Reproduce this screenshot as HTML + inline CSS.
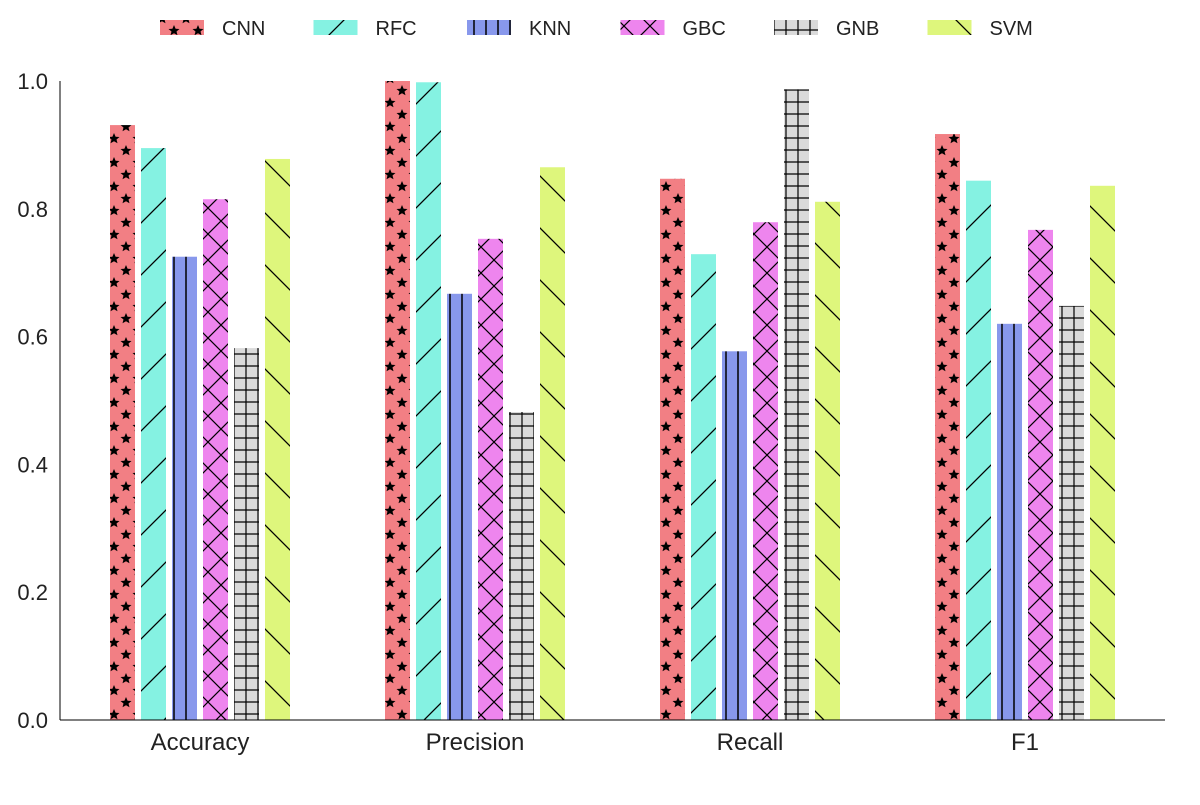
<!DOCTYPE html>
<html><head><meta charset="utf-8"><style>
body{margin:0;background:#fff;}
svg{font-family:"Liberation Sans",sans-serif;}
</style></head><body>
<svg id="chart" width="1200" height="800">
<defs>
<pattern id="p0" patternUnits="userSpaceOnUse" width="24" height="24"><rect width="24" height="24" fill="#f27f84"/>
<polygon points="6,1 7.6,4.8 11.5,5 8.5,7.5 9.5,11.3 6,9.2 2.5,11.3 3.5,7.5 0.5,5 4.4,4.8" fill="#000"/>
<polygon points="18,13 19.6,16.8 23.5,17 20.5,19.5 21.5,23.3 18,21.2 14.5,23.3 15.5,19.5 12.5,17 16.4,16.8" fill="#000"/></pattern>
<pattern id="p1" patternUnits="userSpaceOnUse" width="52" height="52"><rect width="52" height="52" fill="#85f2e2"/><path d="M0,52 L52,0 M-10,10 L10,-10 M42,62 L62,42" stroke="#000" stroke-width="1.3"/></pattern>
<pattern id="p2" patternUnits="userSpaceOnUse" width="12" height="12"><rect width="12" height="12" fill="#8898ec"/><path d="M6,0 L6,12" stroke="#000" stroke-width="1.5"/></pattern>
<pattern id="p3" patternUnits="userSpaceOnUse" width="26" height="26"><rect width="26" height="26" fill="#ee85ee"/><path d="M0,0 L26,26 M26,0 L0,26" stroke="#000" stroke-width="1.2"/></pattern>
<pattern id="p4" patternUnits="userSpaceOnUse" width="12" height="12"><rect width="12" height="12" fill="#dadada"/><path d="M6,0 L6,12 M0,6 L12,6" stroke="#000" stroke-width="1.2"/></pattern>
<pattern id="p5" patternUnits="userSpaceOnUse" width="52" height="52"><rect width="52" height="52" fill="#def67c"/><path d="M0,0 L52,52 M-10,42 L10,62 M42,-10 L62,10" stroke="#000" stroke-width="1.3"/></pattern>
</defs>
<g id="bars"></g>
<g id="axes"></g>
<g id="legend"></g>
</svg>
<script>
const categories=["Accuracy","Precision","Recall","F1"];
const seriesNames=["CNN","RFC","KNN","GBC","GNB","SVM"];
const cnn=[0.931,1.0,0.847,0.917];
const rfc=[0.895,0.998,0.729,0.844];
const knn=[0.725,0.667,0.577,0.620];
const gbc=[0.815,0.753,0.779,0.767];
const gnb=[0.582,0.482,0.987,0.648];
const svm=[0.878,0.865,0.811,0.836];
const yTicks=["0.0","0.2","0.4","0.6","0.8","1.0"];
const series=[cnn,rfc,knn,gbc,gnb,svm];
const NS="http://www.w3.org/2000/svg";
const y0=720,y1=81;
function yScale(v){return y0-(y0-y1)*v;}
function groupCenter(i){return 200+275*i;}
function mk(t,a,p){const e=document.createElementNS(NS,t);for(const k in a)e.setAttribute(k,a[k]);p.appendChild(e);return e;}
const bars=document.getElementById('bars');
series.forEach((s,si)=>{s.forEach((v,ci)=>{
 const x=groupCenter(ci)-90+si*31;
 const r=mk('rect',{x:x,y:yScale(v),width:25,height:y0-yScale(v),fill:'url(#p'+si+')'},bars);
 
 
});});
const ax=document.getElementById('axes');
let l=mk('line',{x1:60,y1:y1,x2:60,y2:y0,stroke:'#000','stroke-width':1},ax);


l=mk('line',{x1:60,y1:y0,x2:1165,y2:y0,stroke:'#000','stroke-width':1},ax);


yTicks.forEach(t=>{const e=mk('text',{x:48,y:yScale(parseFloat(t))+8,'text-anchor':'end','font-size':22,fill:'#222'},ax);e.textContent=t;
 
 });
categories.forEach((c,i)=>{const e=mk('text',{x:groupCenter(i),y:750,'text-anchor':'middle','font-size':24,fill:'#222'},ax);e.textContent=c;
 
 });
const lg=document.getElementById('legend');
seriesNames.forEach((n,i)=>{const x=160+153.5*i;
 const g=mk('g',{},lg);
 
 
 mk('rect',{x:x,y:20,width:44,height:15,fill:'url(#p'+i+')'},g);
 const t=mk('text',{x:x+62,y:35,'font-size':20,fill:'#222'},g);t.textContent=n;});
</script>
</body></html>
